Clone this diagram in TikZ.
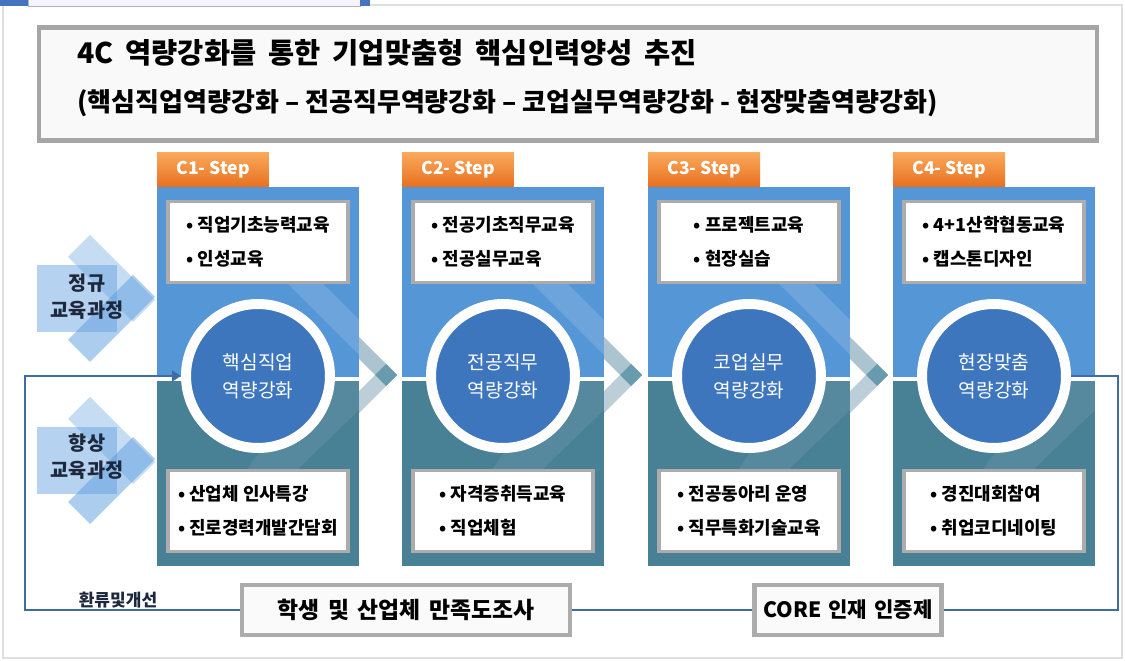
\documentclass[tikz,border=0pt]{standalone}
\usepackage{fontspec}
\setmainfont{Noto Sans CJK KR}
\usetikzlibrary{arrows.meta}

\definecolor{panelup}{RGB}{84,150,214}
\definecolor{paneldown}{RGB}{72,128,150}
\definecolor{circblue}{RGB}{62,118,190}
\definecolor{taborange}{RGB}{232,112,32}
\definecolor{tablight}{RGB}{250,168,90}
\definecolor{chevup}{RGB}{172,196,208}
\definecolor{chevlow}{RGB}{188,206,216}
\definecolor{chevtip}{RGB}{105,155,175}
\definecolor{decoblue}{RGB}{91,155,222}
\definecolor{loopblue}{RGB}{62,108,165}
\definecolor{navytext}{RGB}{30,40,60}
\definecolor{tabblue}{RGB}{70,115,190}
\newcommand{\widegap}[1]{\spaceskip=#1\relax}

\begin{document}
\begin{tikzpicture}[x=0.02cm,y=-0.02cm]
\tikzstyle{every node}=[font=\fontsize{9.4}{11}\selectfont, inner sep=0pt]
\tikzstyle{tabbox}=[top color=tablight, bottom color=taborange, minimum width=2.24cm, minimum height=0.68cm, text=white, font=\bfseries\fontsize{10}{12}\selectfont]
\tikzstyle{itembox}=[draw=gray!65, line width=2pt, fill=white, minimum width=3.6cm, minimum height=1.62cm, align=left, font=\bfseries\fontsize{10.2}{19.3}\selectfont]
\tikzstyle{corecirc}=[circle, draw=white, line width=0.2cm, fill=circblue, minimum size=2.88cm, align=center, text=white, font=\fontsize{10.9}{16}\selectfont]
\tikzstyle{botbox}=[draw=gray!65, line width=2.5pt, fill=gray!4, minimum height=1cm, font=\bfseries\fontsize{13}{15}\selectfont\widegap{0.38em}]
\tikzstyle{sidelabel}=[align=center, text=navytext, font=\bfseries\fontsize{11.2}{15.4}\selectfont]
\tikzstyle{loopline}=[draw=loopblue, line width=1.5pt]
\useasboundingbox (0,0) rectangle (1125,661);

% frame
\draw[gray!25, line width=0.6pt] (3,5) rectangle (1122,658);
\fill[tabblue] (0,-1) rectangle (28,6);
\filldraw[fill=blue!4, draw=gray!60] (28,-1) rectangle (360,6);
\fill[tabblue] (360,-1) rectangle (370,6);

% title
\node[draw=gray!70, line width=2.5pt, fill=gray!5, minimum width=21.16cm, minimum height=2.26cm] (title) at (568,84) {};
\node[anchor=west, font=\bfseries\fontsize{16.2}{18}\selectfont\widegap{0.42em}] (titleA) at (77,53) {4C 역량강화를 통한 기업맞춤형 핵심인력양성 추진};
\node[anchor=west, font=\bfseries\fontsize{14.8}{16}\selectfont] (titleB) at (77,103) {(핵심직업역량강화 – 전공직무역량강화 – 코업실무역량강화 - 현장맞춤역량강화)};

% side decorations
\fill[decoblue, opacity=0.45] (37,265) rectangle (117,332);
\fill[decoblue, opacity=0.35] (68,257) -- (90,235) -- (155,300) -- (133,322) -- cycle;
\fill[decoblue, opacity=0.5] (68,340) -- (90,362) -- (155,297) -- (133,275) -- cycle;
\fill[decoblue, opacity=0.45] (37,427) rectangle (117,494);
\fill[decoblue, opacity=0.35] (68,419) -- (90,397) -- (155,462) -- (133,484) -- cycle;
\fill[decoblue, opacity=0.5] (68,502) -- (90,524) -- (155,459) -- (133,437) -- cycle;
\node[sidelabel] (regular) at (87,297) {정규\\교육과정};
\node[sidelabel] (upgrade) at (87,457) {향상\\교육과정};

% chevrons between steps
\fill[chevup] (320,320) -- (342,320) -- (397,375) -- (375,375) -- cycle;
\fill[chevlow] (375,375) -- (397,375) -- (342,430) -- (320,430) -- cycle;
\fill[chevtip] (375,375) -- (386,364) -- (397,375) -- (386,386) -- cycle;
\fill[chevup] (565,320) -- (587,320) -- (642,375) -- (620,375) -- cycle;
\fill[chevlow] (620,375) -- (642,375) -- (587,430) -- (565,430) -- cycle;
\fill[chevtip] (620,375) -- (631,364) -- (642,375) -- (631,386) -- cycle;
\fill[chevup] (811,320) -- (833,320) -- (888,375) -- (866,375) -- cycle;
\fill[chevlow] (866,375) -- (888,375) -- (833,430) -- (811,430) -- cycle;
\fill[chevtip] (866,375) -- (877,364) -- (888,375) -- (877,386) -- cycle;

% step panels
\fill[panelup] (157,187) rectangle (359,377);
\fill[paneldown] (157,381) rectangle (359,566);
\fill[panelup] (402,187) rectangle (604,377);
\fill[paneldown] (402,381) rectangle (604,566);
\fill[panelup] (648,187) rectangle (850,377);
\fill[paneldown] (648,381) rectangle (850,566);
\fill[panelup] (893,187) rectangle (1095,377);
\fill[paneldown] (893,381) rectangle (1095,566);
% light diagonal bands
\fill[white, opacity=0.14] (287,283) -- (322,283) -- (359,320) -- (359,355) -- cycle;
\fill[white, opacity=0.14] (532,283) -- (567,283) -- (604,320) -- (604,355) -- cycle;
\fill[white, opacity=0.14] (778,283) -- (813,283) -- (850,320) -- (850,355) -- cycle;
\fill[white, opacity=0.08] (307,381) -- (359,381) -- (359,410) -- (297,470) -- (247,470) -- cycle;
\fill[white, opacity=0.08] (552,381) -- (604,381) -- (604,410) -- (542,470) -- (492,470) -- cycle;
\fill[white, opacity=0.08] (798,381) -- (850,381) -- (850,410) -- (788,470) -- (738,470) -- cycle;
\fill[white, opacity=0.08] (1043,381) -- (1095,381) -- (1095,410) -- (1033,470) -- (983,470) -- cycle;

\node[tabbox] (tab1) at (213,170) {C1- Step};
\node[tabbox] (tab2) at (458,170) {C2- Step};
\node[tabbox] (tab3) at (704,170) {C3- Step};
\node[tabbox] (tab4) at (949,170) {C4- Step};

\node[itembox] (up1) at (258,242) {• 직업기초능력교육\\• 인성교육};
\node[itembox] (up2) at (503,242) {• 전공기초직무교육\\• 전공실무교육};
\node[itembox] (up3) at (749,242) {• 프로젝트교육\\• 현장실습};
\node[itembox] (up4) at (994,242) {• 4+1산학협동교육\\• 캡스톤디자인};

\node[itembox] (low1) at (258,511) {• 산업체 인사특강\\• 진로경력개발간담회};
\node[itembox] (low2) at (503,511) {• 자격증취득교육\\• 직업체험};
\node[itembox] (low3) at (749,511) {• 전공동아리 운영\\• 직무특화기술교육};
\node[itembox] (low4) at (994,511) {• 경진대회참여\\• 취업코디네이팅};

\node[corecirc] (core1) at (258,376) {핵심직업\\역량강화};
\node[corecirc] (core2) at (503,376) {전공직무\\역량강화};
\node[corecirc] (core3) at (749,376) {코업실무\\역량강화};
\node[corecirc] (core4) at (994,376) {현장맞춤\\역량강화};

% feedback loop
\node[botbox, minimum width=6.56cm] (survey) at (406,610) {학생 및 산업체 만족도조사};
\node[botbox, minimum width=3.74cm, font=\bfseries\fontsize{12}{14}\selectfont\widegap{0.34em}] (cert) at (848,610) {CORE 인재 인증제};
\coordinate (loopL) at (25,376);
\coordinate (loopR) at (1118,376);
\draw[loopline, -{Triangle[width=6pt,length=5pt]}] (survey.west) -| (loopL) -- (core1.west);
\draw[loopline] (survey.east) -- (cert.west);
\draw[loopline] (cert.east) -| (loopR) -- (core4.east);
\node[font=\bfseries\fontsize{9.7}{11}\selectfont, text=navytext] (feedback) at (118,600) {환류및개선};
\end{tikzpicture}
\end{document}
